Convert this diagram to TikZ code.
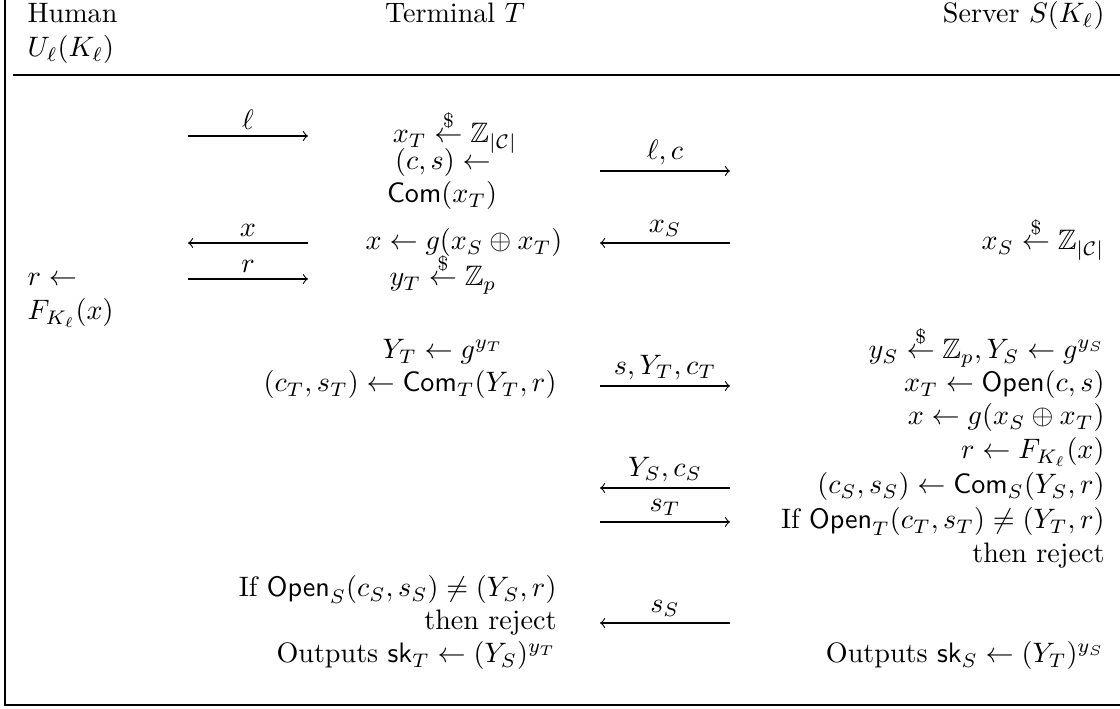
\documentclass[tikz,border=0pt]{standalone}
\usepackage{amsmath,amssymb}
\newcommand{\samp}{\mathrel{\smash{\overset{\$}{\leftarrow}}}}
\newcommand{\Com}{\mathsf{Com}}
\newcommand{\Open}{\mathsf{Open}}

\begin{document}
\begin{tikzpicture}[every node/.style={inner sep=0pt},
                    lab/.style={above,inner sep=2pt}]
  \useasboundingbox (0,0) rectangle (14,8.8625);
  % frame and header rule
  \draw (0.0625,8.8625) -- (0.0625,0.05) -- (14,0.05);
  \draw (0.1625,7.925) -- (14,7.925);

  % message end points
  \coordinate (L1a) at (2.35,7.1625);  \coordinate (L1b) at (3.85,7.1625);
  \coordinate (L2a) at (2.35,5.825);   \coordinate (L2b) at (3.85,5.825);
  \coordinate (L3a) at (2.35,5.375);   \coordinate (L3b) at (3.85,5.375);
  \coordinate (M1a) at (7.5,6.725);    \coordinate (M1b) at (9.125,6.725);
  \coordinate (M2a) at (7.5,5.825);    \coordinate (M2b) at (9.125,5.825);
  \coordinate (M3a) at (7.5,4.0375);   \coordinate (M3b) at (9.125,4.0375);
  \coordinate (M4a) at (7.5,2.7625);   \coordinate (M4b) at (9.125,2.7625);
  \coordinate (M5a) at (7.5,2.3375);   \coordinate (M5b) at (9.125,2.3375);
  \coordinate (M6a) at (7.5,1.075);    \coordinate (M6b) at (9.125,1.075);

  \draw[->] (L1a) -- node[lab] (l1) {$\ell$} (L1b);
  \draw[->] (L2b) -- node[lab] (l2) {$x$} (L2a);
  \draw[->] (L3a) -- node[lab] (l3) {$r$} (L3b);
  \draw[->] (M1a) -- node[lab] (m1) {$\ell, c$} (M1b);
  \draw[->] (M2b) -- node[lab] (m2) {$x_S$} (M2a);
  \draw[->] (M3a) -- node[lab] (m3) {$s, Y_T, c_T$} (M3b);
  \draw[->] (M4b) -- node[lab] (m4) {$Y_S, c_S$} (M4a);
  \draw[->] (M5a) -- node[lab] (m5) {$s_T$} (M5b);
  \draw[->] (M6b) -- node[lab] (m6) {$s_S$} (M6a);

  % header
  \node[anchor=base west] (hum) at (0.3375,8.575) {Human};
  \node[anchor=base west] (usr) at (0.3375,8.15) {$U_\ell(K_\ell)$};
  \node[anchor=base] (term) at (5.6875,8.575) {Terminal $T$};
  \node[anchor=base east] (serv) at (13.8125,8.575) {Server $S(K_\ell)$};

  % human
  \node[anchor=base west] (h1) at (0.3375,5.2875) {$r \leftarrow$};
  \node[anchor=base west] (h2) at (0.3375,4.8625) {$F_{K_\ell}(x)$};

  % terminal
  \node[anchor=base] (t1) at (5.6875,7.075) {$x_T \samp \mathbb{Z}_{|\mathcal{C}|}$};
  \node[anchor=base] (t2) at (5.5375,6.7375) {$(c,s) \leftarrow$};
  \node[anchor=base] (t3) at (5.525,6.325) {$\Com(x_T)$};
  \node[anchor=base] (t4) at (5.8,5.7375) {$x \leftarrow g(x_S \oplus x_T)$};
  \node[anchor=base] (t5) at (5.5375,5.2875) {$y_T \samp \mathbb{Z}_p$};
  \node[anchor=base] (t6) at (5.5375,4.375) {$Y_T \leftarrow g^{y_T}$};
  \node[anchor=base east] (t7) at (6.9625,3.9625) {$(c_T,s_T) \leftarrow \Com_T(Y_T,r)$};
  \node[anchor=base east] (t8) at (6.9625,1.4) {If $\Open_S(c_S,s_S) \neq (Y_S,r)$};
  \node[anchor=base east] (t9) at (6.9625,0.9875) {then reject};
  \node[anchor=base east] (t10) at (6.9625,0.575) {Outputs $\mathsf{sk}_T \leftarrow (Y_S)^{y_T}$};

  % server
  \node[anchor=base east] (s1) at (13.8125,5.7375) {$x_S \samp \mathbb{Z}_{|\mathcal{C}|}$};
  \node[anchor=base east] (s2) at (13.8125,4.375) {$y_S \samp \mathbb{Z}_p, Y_S \leftarrow g^{y_S}$};
  \node[anchor=base east] (s3) at (13.8125,3.9625) {$x_T \leftarrow \Open(c,s)$};
  \node[anchor=base east] (s4) at (13.8125,3.55) {$x \leftarrow g(x_S \oplus x_T)$};
  \node[anchor=base east] (s5) at (13.8125,3.125) {$r \leftarrow F_{K_\ell}(x)$};
  \node[anchor=base east] (s6) at (13.8125,2.6875) {$(c_S,s_S) \leftarrow \Com_S(Y_S,r)$};
  \node[anchor=base east] (s7) at (13.8125,2.25) {If $\Open_T(c_T,s_T) \neq (Y_T,r)$};
  \node[anchor=base east] (s8) at (13.8125,1.825) {then reject};
  \node[anchor=base east] (s9) at (13.8125,0.575) {Outputs $\mathsf{sk}_S \leftarrow (Y_T)^{y_S}$};
\end{tikzpicture}
\end{document}
